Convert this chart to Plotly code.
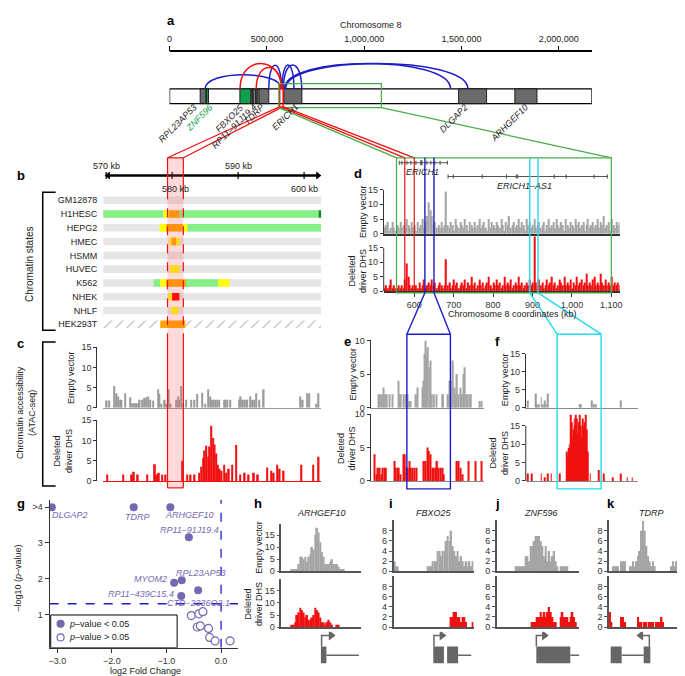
import plotly.graph_objects as go

W, H = 685, 676
FONT = "Liberation Sans, Arial, Helvetica, sans-serif"
RED = "#f01010"
GREY = "#a5a5a5"
BLUE = "#1c1cc8"
CYAN = "#20dced"
GREEN = "#46ad46"
ZGREEN = "#13a04c"
PURPLE = "#7468b0"
DARK = "#222222"
MODEL = "#666666"

# ------------------------------------------------------------------ data
# a: chromosome 8 overview (bp)
chrom_len = 2170000
chrom_ticks = [0, 500000, 1000000, 1500000, 2000000]
chrom_tick_text = ["0", "500,000", "1,000,000", "1,500,000", "2,000,000"]
gene_blocks = [(157000, 187000, "#6b6b6b"), (190000, 200000, ZGREEN), (361000, 417000, ZGREEN),
               (422000, 428000, "#555555"), (432000, 442000, "#9a9a9a"), (445000, 454000, "#6b6b6b"),
               (459000, 510000, "#6b6b6b"), (587000, 680000, "#6b6b6b"),
               (1485000, 1629000, "#6b6b6b"), (1774000, 1888000, "#6b6b6b")]
driver_a = (566000, 583000)
gene_names = ["RPL23AP53", "ZNF596", "FBXO25", "RP11–91J19.4", "TDRP", "ERICH1", "DLGAP2", "ARHGEF10"]
gene_label_end = [168000, 245000, 408000, 474000, 515000, 688000, 1561000, 1867000]
gene_label_color = [DARK, ZGREEN, DARK, DARK, DARK, DARK, DARK, DARK]
loops_blue = [(182000, 575000, 1.95), (510000, 575000, 2.6), (578000, 639000, 2.62),
              (585000, 679000, 2.62), (590000, 1444000, 2.72), (596000, 1533000, 2.72)]
loops_red = [(362000, 575000, 2.72), (445000, 575000, 2.45)]
zoom_region_a = (561000, 1088000)

# b: chromatin states (kb)
b_rows = ["GM12878", "H1HESC", "HEPG2", "HMEC", "HSMM", "HUVEC", "K562", "NHEK", "NHLF", "HEK293T"]
b_span = (569.55, 602.6)
state_grey = [(r, 569.55, 602.6) for r in range(9)]
state_green = [(1, 569.55, 578.7), (1, 581.1, 602.2), (2, 582.3, 602.6), (6, 577.2, 578.2), (6, 582.1, 587.0)]
state_dkgreen = [(1, 602.2, 602.6)]
state_yellow = [(1, 578.7, 579.5), (2, 578.1, 579.1), (2, 581.6, 582.3), (3, 579.6, 581.1),
                (5, 579.7, 581.1), (6, 578.2, 579.1), (6, 587.0, 588.7), (7, 579.4, 580.0), (8, 579.9, 580.9)]
state_orange = [(1, 579.5, 581.1), (2, 579.1, 581.6), (3, 579.9, 580.6), (6, 579.1, 582.1), (9, 578.2, 582.0)]
state_red = [(7, 580.0, 581.1)]
state_hatched = [(9, 569.55, 602.6)]
driver_dhs = (579.3, 581.7)

# c: ATAC-seq around the driver DHS (kb, reads)
c_empty = [(570.1, 1.8), (570.5, 1.8), (571.25, 5.4), (571.6, 3.6), (571.8, 2.8), (572.1, 2.0), (572.35, 2.0),
           (572.85, 3.6), (573.7, 2.6), (574.0, 1.1), (574.35, 1.1), (574.6, 1.1), (574.85, 1.1), (575.1, 2.0),
           (575.5, 2.0), (575.8, 2.4), (576.1, 2.6), (576.35, 2.8), (576.7, 2.0), (577.1, 1.8), (577.9, 4.6),
           (578.1, 3.4), (578.4, 1.0), (578.9, 2.0), (579.1, 1.0), (579.5, 4.6), (579.8, 1.0), (580.6, 2.0),
           (580.9, 2.8), (581.1, 2.0), (581.4, 5.4), (581.7, 1.1), (582.1, 2.0), (582.9, 2.0), (583.4, 2.0),
           (583.8, 3.4), (584.6, 3.7), (585.0, 1.0), (585.5, 4.6), (585.8, 2.8), (586.0, 2.0), (586.3, 2.0),
           (586.5, 2.0), (586.8, 2.0), (587.1, 2.0), (587.9, 2.0), (588.1, 2.0), (588.4, 2.0), (588.8, 2.0),
           (590.2, 2.0), (590.4, 2.8), (590.7, 2.0), (590.9, 2.0), (591.2, 2.0), (591.4, 2.0), (591.8, 2.8),
           (592.1, 2.0), (592.4, 2.0), (592.7, 3.6), (593.2, 2.0), (593.9, 4.6), (599.4, 2.8), (599.8, 2.0),
           (600.5, 3.6), (600.8, 3.6), (601.9, 1.0), (602.2, 3.6)]
c_deleted = [(570.15, 1.6), (572.6, 1.6), (573.9, 1.6), (574.2, 2.3), (574.8, 1.6), (576.2, 1.6), (577.4, 4.1),
             (577.7, 1.6), (578.0, 2.0), (578.5, 1.6), (579.0, 1.6), (581.6, 5.0), (582.3, 1.6), (582.8, 1.6),
             (583.4, 1.6), (584.1, 2.0), (584.4, 3.5), (584.7, 5.7), (584.95, 7.5), (585.2, 8.7), (585.45, 6.0),
             (585.7, 8.5), (585.95, 13.6), (586.2, 10.6), (586.45, 9.0), (586.7, 6.8), (586.95, 4.0), (587.2, 3.0),
             (587.5, 2.5), (587.9, 4.0), (588.2, 2.0), (588.6, 3.0), (589.1, 4.0), (589.7, 8.9), (590.3, 1.6),
             (591.0, 2.0), (591.6, 1.6), (592.4, 2.0), (593.0, 1.6), (594.4, 3.3), (595.0, 2.5), (595.4, 2.0),
             (595.9, 4.0), (596.3, 3.0), (596.9, 2.5), (599.6, 4.0), (601.4, 4.0), (602.2, 6.0)]

# d: 4 kb bins starting at 525 kb
d_bin_start, d_bin_kb = 525, 4
d_empty = [2, 3, 4, 1, 2, 4, 2, 1, 3, 2,
           4, 2, 3, 2, 5, 3, 2, 4, 2, 3,
           1, 4, 2, 3, 5, 2, 4, 6, 10.7, 8,
           6, 3, 4, 2, 3, 2, 4, 2, 3, 14.4,
           3, 2, 4, 3, 1, 5, 3, 2, 4, 3,
           2, 5, 3, 1, 4, 3, 2, 4, 2, 3,
           5, 2, 3, 4, 2, 1, 5, 2, 4, 3,
           2, 4, 3, 2, 5, 3, 1, 4, 3, 6,
           2, 3, 4, 2, 3, 5, 2, 4, 3, 1,
           5, 3, 4, 2, 3, 5, 2, 3, 4, 2,
           3, 4, 1, 3, 5, 2, 3, 4, 2, 5,
           3, 2, 4, 3, 1, 5, 3, 2, 4, 3,
           2, 5, 3, 4, 2, 3, 4, 1, 3, 5,
           2, 3, 4, 2, 3, 5, 2, 4, 3, 6,
           2, 3, 4, 1, 5, 3, 2, 4, 3, 4]
d_deleted = [1, 2, 1, 2, 4, 1, 2, 1, 1, 2,
             1, 2, 1, 4, 9.6, 5, 2, 1, 2, 1,
             2, 1, 3, 1, 2, 4, 1, 2, 3, 2,
             4, 2, 3, 1, 2, 3, 2, 1, 2, 11,
             2, 3, 1, 2, 4, 2, 3, 1, 2, 3,
             2, 4, 1, 3, 2, 5, 2, 3, 1, 2,
             4, 2, 3, 1, 2, 3, 5, 2, 1, 3,
             2, 4, 2, 3, 1, 2, 5, 2, 3, 2,
             4, 1, 2, 3, 2, 5, 2, 3, 1, 2,
             3, 2, 4, 2, 3, 18.9, 3, 2, 4, 2,
             3, 1, 2, 4, 2, 3, 5, 2, 3, 1,
             2, 4, 3, 2, 5, 2, 3, 2, 4, 1,
             3, 2, 5, 2, 3, 4, 2, 3, 6, 2,
             3, 2, 4, 5, 2, 3, 2, 6, 3, 2,
             4, 2, 3, 2, 5, 2, 3, 2, 3, 2]
erich1_span = (562.1, 684.1)
erich1_exons = [562.1, 568.8, 581.4, 591.5, 604.2, 631.9, 642.0, 652.1, 665.6, 684.1]
erich1_box = (615.1, 620.9)
as1_span = (685.8, 1089.9)
as1_exons = [685.8, 699.3, 772.5, 833.9, 859.1, 862.6, 955.1, 985.4, 1056.1, 1089.9]
d_ticks = [600, 700, 800, 900, 1000, 1100]
d_tick_text = ["600", "700", "800", "900", "1,000", "1,100"]
blue_region = (627, 650)
cyan_region = (893, 914)
red_region_d = (576, 600)
green_region_d = (555, 1100)

# e: zoom on blue region (kb, reads)
e_empty = [(612.0, 2), (612.9, 2), (613.9, 2), (614.8, 3), (615.5, 2), (616.5, 2), (617.8, 2), (619.5, 2),
           (622.5, 4), (623.2, 2), (623.9, 2), (625.1, 2), (626.5, 2), (627.4, 2), (628.2, 1), (629.1, 1),
           (631.9, 2), (632.8, 3), (635.2, 3), (635.7, 4), (636.4, 8), (637.0, 10), (637.5, 7.6), (638.2, 9),
           (638.9, 6), (639.6, 7), (640.1, 2), (641.4, 2), (642.7, 2), (645.7, 2), (646.2, 2), (648.8, 2),
           (649.7, 4), (650.4, 4), (651.4, 7), (652.1, 3), (652.9, 2), (653.5, 5), (654.4, 2), (655.3, 3),
           (656.2, 2), (657.0, 5), (657.7, 6), (658.4, 2), (659.1, 2), (660.2, 2), (660.9, 2), (665.4, 1),
           (666.6, 1)]
e_deleted = [(609.9, 4), (611.0, 1), (611.8, 2), (612.6, 2), (613.5, 1), (614.3, 2), (615.2, 2), (616.0, 2),
             (620.4, 3), (621.2, 2), (622.0, 2), (622.8, 2), (623.6, 1), (625.3, 4), (626.0, 4), (626.8, 2),
             (627.6, 2), (628.4, 3), (629.2, 2), (630.0, 2), (631.0, 2), (632.0, 2), (636.1, 3), (637.0, 3),
             (637.8, 5), (638.7, 4.5), (639.6, 4), (640.5, 2), (641.3, 2), (642.1, 2), (643.0, 3), (643.8, 2),
             (645.0, 2), (645.8, 2), (646.6, 1), (653.5, 3), (654.4, 3), (655.4, 2), (656.4, 1), (659.7, 3),
             (663.2, 3), (666.6, 3)]

# f: zoom on cyan region (kb, reads)
f_empty = [(879.1, 2), (882.6, 4), (883.4, 1), (884.3, 1), (885.4, 3), (886.2, 1), (887.0, 2), (887.8, 1),
           (888.6, 4), (903.6, 1), (904.4, 1), (909.4, 2), (910.7, 1), (911.5, 1), (923.3, 2)]
f_deleted = [(879.1, 2), (880.7, 2), (885.4, 2), (887.0, 1), (888.6, 2), (890.2, 2), (894.1, 2),
             (897.6, 8), (898.0, 7), (898.4, 9), (898.8, 10), (899.2, 8), (899.6, 18), (900.0, 16),
             (900.4, 12), (900.8, 14), (901.2, 17), (901.6, 15), (902.0, 18), (902.4, 17), (902.8, 13),
             (903.2, 16), (903.6, 18), (904.0, 14), (904.4, 15), (904.8, 12), (905.2, 17), (905.6, 15),
             (906.0, 16), (906.4, 11), (906.8, 18), (907.2, 14), (907.6, 8), (908.8, 2), (913.0, 3),
             (915.4, 2), (919.4, 1), (923.3, 2), (926.5, 1), (928.9, 1)]

# g: volcano plot
g_sig_x = [-3.1, -1.6, -0.93, -0.59, -0.72, -0.86, -0.73, -0.42]
g_sig_y = [4.0, 4.0, 4.0, 3.16, 1.96, 1.89, 1.52, 1.68]
g_sig_names = ["DLGAP2", "TDRP", "ARHGEF10", "RP11–91J19.4", "RPL23AP53", "MYOM2", "RP11–439C15.4", "CTD–2336O2.1"]
g_lab_x = [-2.76, -1.53, -0.57, -0.58, -0.36, -1.3, -1.47, -0.42]
g_lab_y = [3.77, 3.72, 3.77, 3.36, 2.17, 2.0, 1.57, 1.31]
g_ns_x = [-0.545, -0.406, -0.333, -0.436, -0.38, -0.23, -0.21, -0.11, 0.164]
g_ns_y = [0.97, 1.02, 1.08, 0.65, 0.68, 0.61, 0.36, 0.26, 0.26]
p_cut = 1.301

# h-k: promoter coverage (bins)
h_empty = [0, 0, 0, 0, 0, 0, 1, 1, 1, 1, 3, 6, 6, 5, 6, 4, 6, 7, 10, 9,
           15, 18, 16, 12, 8, 6, 3, 3, 3, 4, 5, 3, 3, 3, 2, 1, 1, 1, 0, 0,
           0, 0, 0, 0, 0, 0, 0, 0]
h_deleted = [0, 0, 0, 0, 0, 0, 1, 1, 2, 5, 6, 8, 7, 6, 4, 5, 3, 3, 4, 5,
             8, 7, 6, 4, 2, 2, 1, 2, 3, 2, 1, 0, 0, 1, 1, 0, 0, 0, 0, 0,
             0, 0, 0, 0, 0, 0, 0, 0]
i_empty = [2, 1, 1, 0, 0, 0, 0, 0, 0, 0, 0, 0, 0, 0, 0, 0, 0, 0, 0, 0,
           1, 1, 1, 2, 2, 2, 4, 4, 3, 4, 4, 6, 7, 6, 8, 5, 4, 3, 4, 2,
           3, 2, 1, 2, 1, 2, 1, 2]
i_deleted = [0, 0, 0, 0, 0, 0, 0, 0, 0, 0, 0, 0, 0, 0, 0, 0, 0, 0, 0, 0,
             0, 0, 0, 0, 0, 0, 0, 0, 0, 0, 0, 0, 0, 0, 2, 2, 3, 3, 2, 2,
             1, 2, 2, 1, 0, 0, 0, 1]
j_empty = [0, 0, 0, 0, 0, 0, 0, 0, 0, 0, 0, 1, 1, 1, 1, 1, 1, 3, 3, 2,
           5, 5, 6, 7, 7, 7, 6, 5, 3, 5, 2, 4, 2, 3, 4, 2, 1, 0, 1, 1,
           1, 1, 1, 0, 0, 0, 0, 0, 0, 0]
j_deleted = [0, 0, 0, 0, 0, 0, 0, 0, 0, 0, 0, 0, 0, 0, 0, 0, 0, 0, 0, 0,
             0, 1, 1, 1, 2, 2, 3, 2, 3, 2, 3, 4, 3, 2, 1, 1, 0, 0, 2, 3,
             2, 2, 2, 1, 2, 3, 2, 1, 0, 0]
k_empty = [0, 0, 1, 1, 1, 1, 0, 2, 2, 2, 0, 0, 1, 1, 2, 1, 2, 3, 4, 8,
           10, 8, 5, 3, 2, 1, 2, 1, 0, 0, 0, 0, 0, 0, 0, 0, 0, 1, 2, 1,
           2, 2, 4, 5, 3, 2, 1, 0]
k_deleted = [3, 1, 0, 0, 0, 0, 0, 2, 2, 1, 0, 0, 0, 0, 0, 0, 0, 2, 1, 1,
             0, 1, 1, 0, 1, 1, 1, 0, 1, 1, 1, 2, 1, 0, 0, 0, 0, 0, 0, 0,
             0, 1, 2, 3, 2, 1, 0, 0]
promoter_genes = ["ARHGEF10", "FBXO25", "ZNF596", "TDRP"]
# gene models in bin units: exons, intron line, TSS x, arrow tip x
models = [
    dict(exons=[(23.8, 27.1)], line=(27.1, 46.6), tss=24.2, tip=32.1),
    dict(exons=[(23.8, 30.2), (32.1, 38.7)], line=(38.7, 46.6), tss=24.2, tip=31.2),
    dict(exons=[(23.8, 44.2)], line=(44.2, 49.6), tss=23.8, tip=30.8),
    dict(exons=[(1.0, 7.6), (20.8, 24.8)], line=(7.6, 20.8), tss=24.2, tip=16.9),
]

# ------------------------------------------------------------------ helpers
fig = go.Figure()
AX = {}


def sfx(n):
    return "" if n == 1 else str(n)


def add_axes(n, xpx, ypx, xr, yr, xkw=None, ykw=None):
    AX[n] = (xpx, ypx, xr, yr)
    base = dict(showgrid=False, zeroline=False, showticklabels=False, ticks="", showline=False,
                fixedrange=True, tickfont=dict(family=FONT, size=9, color="#333333"))
    xa = dict(base, domain=[xpx[0] / W, xpx[1] / W], range=list(xr), anchor="y" + sfx(n))
    ya = dict(base, domain=[1 - ypx[1] / H, 1 - ypx[0] / H], range=list(yr), anchor="x" + sfx(n))
    xa.update(xkw or {})
    ya.update(ykw or {})
    fig.update_layout(**{"xaxis" + sfx(n): xa, "yaxis" + sfx(n): ya})


def X(n, v):
    xpx, ypx, xr, yr = AX[n]
    return xpx[0] + (v - xr[0]) / (xr[1] - xr[0]) * (xpx[1] - xpx[0])


def Y(n, v):
    xpx, ypx, xr, yr = AX[n]
    return ypx[1] - (v - yr[0]) / (yr[1] - yr[0]) * (ypx[1] - ypx[0])


def hist_y(vals, color="#333333", **kw):
    d = dict(showline=True, linecolor=color, linewidth=1, ticks="outside", ticklen=3,
             tickcolor=color, showticklabels=True, tickvals=vals)
    d.update(kw)
    return d


def base_x(color, width=1.0):
    return dict(showline=True, linecolor=color, linewidth=width)


def add_bars(n, pts, color, width):
    xs = [p[0] for p in pts]
    ys = [p[1] for p in pts]
    fig.add_trace(go.Bar(x=xs, y=ys, width=width, marker=dict(color=color, line=dict(width=0)),
                         xaxis="x" + sfx(n), yaxis="y" + sfx(n), hoverinfo="skip", showlegend=False))


def add_line(n, xs, ys, color, width=1.2, dash="solid"):
    fig.add_trace(go.Scatter(x=xs, y=ys, mode="lines", line=dict(color=color, width=width, dash=dash),
                             xaxis="x" + sfx(n), yaxis="y" + sfx(n), hoverinfo="skip", showlegend=False))


def note(x, y, text, size=9, color=DARK, angle=0, xa="center", ya="middle", xref="paper", yref="paper"):
    if xref == "paper":
        x = x / W
    if yref == "paper":
        y = 1 - y / H
    fig.add_annotation(x=x, y=y, xref=xref, yref=yref, text=text, showarrow=False, textangle=angle,
                       font=dict(family=FONT, size=size, color=color), xanchor=xa, yanchor=ya)


def seg(x0, y0, x1, y1, color, width=1.2, dash="solid"):
    fig.add_shape(type="line", xref="paper", yref="paper", x0=x0 / W, y0=1 - y0 / H, x1=x1 / W,
                  y1=1 - y1 / H, line=dict(color=color, width=width, dash=dash))


def prect(x0, y0, x1, y1, color, width=1.2, fill="rgba(0,0,0,0)"):
    fig.add_shape(type="rect", xref="paper", yref="paper", x0=x0 / W, y0=1 - y1 / H, x1=x1 / W,
                  y1=1 - y0 / H, line=dict(color=color, width=width), fillcolor=fill)


# ------------------------------------------------------------------ a
add_axes(1, (160, 586), (40, 100), (0, chrom_len), (-0.533, 3.467),
         xkw=dict(side="top", showline=True, linecolor="black", linewidth=1.5, ticks="outside", ticklen=5,
                  tickcolor="black", showticklabels=True, tickvals=chrom_ticks, ticktext=chrom_tick_text,
                  tickfont=dict(family=FONT, size=9, color=DARK)))
add_line(1, [0], [0], "rgba(0,0,0,0)")
fig.add_shape(type="rect", xref="x", yref="y", x0=0, x1=chrom_len, y0=0, y1=1,
              line=dict(color="black", width=1.2), fillcolor="white")
for s, e, c in gene_blocks:
    fig.add_shape(type="rect", xref="x", yref="y", x0=s, x1=e, y0=0, y1=1,
                  line=dict(color="black", width=0.8), fillcolor=c)
for loops, col in ((loops_blue, BLUE), (loops_red, RED)):
    for s, e, peak in loops:
        cy = 1 + (peak - 1) * 4 / 3
        fig.add_shape(type="path", xref="x", yref="y", path=f"M {s},1 C {s},{cy:.3f} {e},{cy:.3f} {e},1",
                      line=dict(color=col, width=1.5))
for bp in driver_a:
    fig.add_shape(type="line", xref="x", yref="y", x0=bp, x1=bp, y0=-0.2, y1=1.3, line=dict(color=RED, width=1.4))
fig.add_shape(type="rect", xref="x", yref="y", x0=zoom_region_a[0], x1=zoom_region_a[1], y0=-0.27, y1=1.35,
              line=dict(color=GREEN, width=1.2))
for name, end, col in zip(gene_names, gene_label_end, gene_label_color):
    note(end, 0.3, f"<i>{name}</i>", size=9, color=col, angle=-45, xa="right", ya="top", xref="x", yref="y")
note(363, 12, "Chromosome 8", size=9)

# ------------------------------------------------------------------ b
add_axes(2, (93, 313), (183, 323), b_span, (9.5, -0.5),
         ykw=dict(showticklabels=True, tickvals=list(range(10)), ticktext=b_rows, ticklabelstandoff=5,
                  tickfont=dict(family=FONT, size=9, color=DARK)))
for segs, col in ((state_grey, "#e6e6e6"), (state_green, "#86f086"), (state_dkgreen, "#0c8a2c"),
                  (state_yellow, "#ffff00"), (state_orange, "#ffa500"), (state_red, "#ff0000")):
    if col == "#ffa500":
        fig.add_trace(go.Bar(orientation="h", y=[s[0] for s in state_hatched], base=[s[1] for s in state_hatched],
                             x=[s[2] - s[1] for s in state_hatched], width=0.55,
                             marker=dict(color="white", line=dict(width=0),
                                         pattern=dict(shape="/", fgcolor="#555555", bgcolor="white",
                                                      size=8, solidity=0.12)),
                             xaxis="x2", yaxis="y2", hoverinfo="skip", showlegend=False))
    fig.add_trace(go.Bar(orientation="h", y=[s[0] for s in segs], base=[s[1] for s in segs],
                         x=[s[2] - s[1] for s in segs], width=0.55, marker=dict(color=col, line=dict(width=0)),
                         xaxis="x2", yaxis="y2", hoverinfo="skip", showlegend=False))

# ruler above b
add_axes(3, (93, 313), (145, 185), b_span, (-20, 20))
add_line(3, [570.1, 602.3], [0, 0], "black", width=2.4)
fig.add_trace(go.Scatter(x=[570.3, 602.1], y=[0, 0], mode="markers",
                         marker=dict(symbol=["triangle-left", "triangle-right"], size=7, color="black"),
                         xaxis="x3", yaxis="y3", hoverinfo="skip", showlegend=False))
for kb in (570, 580, 590, 600):
    add_line(3, [kb, kb], [-3.5, 3.5], "black", width=1.2)
for kb, yy in ((570, 10), (590, 10), (580.5, -14), (600, -14)):
    note(kb, yy, f"{int(kb)} kb", size=9, xref="x3", yref="y3")

# ------------------------------------------------------------------ c
add_axes(4, (93, 313), (339.3, 400.7), b_span, (0, 15), xkw=base_x("#9a9a9a"),
         ykw=hist_y([0, 5, 10, 15], anchor="free", position=86 / W))
add_axes(5, (93, 313), (413.3, 475), b_span, (0, 15), xkw=base_x(RED),
         ykw=hist_y([0, 5, 10, 15], anchor="free", position=86 / W))
add_bars(4, c_empty, "#9b9b9b", 0.22)
add_bars(5, c_deleted, RED, 0.25)

# ------------------------------------------------------------------ d
d_x = [d_bin_start + d_bin_kb * i for i in range(len(d_empty))]
d_span = (522.5, 1121)
add_axes(6, (376, 614), (145, 178), d_span, (0, 33))
add_axes(7, (376, 614), (179.3, 224), d_span, (0, 15), xkw=base_x("#333333", 2), ykw=hist_y([0, 5, 10, 15]))
add_axes(8, (376, 614), (225.1, 282.3), d_span, (0, 19.5),
         xkw=dict(showline=True, linecolor="#333333", linewidth=2, ticks="outside", ticklen=4,
                  tickcolor="#333333", showticklabels=True, tickvals=d_ticks, ticktext=d_tick_text),
         ykw=dict(ticks="outside", ticklen=3, tickcolor="#333333", showticklabels=True, tickvals=[0, 5, 10, 15]))
fig.add_shape(type="line", xref="x8 domain", yref="y8", x0=0, x1=0, y0=0, y1=15,
              line=dict(color="#333333", width=1))
add_bars(7, list(zip(d_x, d_empty)), GREY, 3.0)
add_bars(8, list(zip(d_x, d_deleted)), RED, 3.0)
gx, gy = [erich1_span[0], erich1_span[1], None, as1_span[0], as1_span[1], None], [26, 26, None, 12, 12, None]
for kb in erich1_exons:
    gx += [kb, kb, None]
    gy += [24, 28, None]
for kb in as1_exons:
    gx += [kb, kb, None]
    gy += [10, 14, None]
add_line(6, gx, gy, "#555555", width=1.1)
fig.add_shape(type="rect", xref="x6", yref="y6", x0=erich1_box[0], x1=erich1_box[1], y0=23.5, y1=28.5,
              line=dict(width=0), fillcolor="#555555")
note(621, 17, "<i>ERICH1</i>", size=9, xref="x6", yref="y6")
note(880, 2, "<i>ERICH1–AS1</i>", size=9, xref="x6", yref="y6")

# ------------------------------------------------------------------ e, f
add_axes(9, (362.7, 476.7), (332.3, 400.7), (607.8, 667.5), (0, 10), xkw=base_x("#8a8a8a"), ykw=hist_y([0, 5, 10]))
add_axes(10, (362.7, 476.7), (407.3, 475), (607.8, 667.5), (0, 10), xkw=base_x("#8a8a8a"), ykw=hist_y([0, 5, 10]))
add_bars(9, e_empty, GREY, 0.75)
add_bars(10, e_deleted, RED, 0.75)
add_axes(11, (519.3, 632.7), (346, 400.7), (878, 931.7), (0, 15), xkw=base_x("#8a8a8a"),
         ykw=hist_y([0, 5, 10, 15]))
add_axes(12, (519.3, 632.7), (404.1, 475), (878, 931.7), (0, 19), xkw=base_x("#8a8a8a"),
         ykw=dict(ticks="outside", ticklen=3, tickcolor="#333333", showticklabels=True, tickvals=[0, 5, 10, 15]))
fig.add_shape(type="line", xref="x12 domain", yref="y12", x0=0, x1=0, y0=0, y1=15,
              line=dict(color="#333333", width=1))
add_bars(11, f_empty, "#9b9b9b", 0.45)
add_bars(12, f_deleted, RED, 0.42)

# ------------------------------------------------------------------ g
add_axes(13, (39, 229), (494, 644.3), (-3.14, 0.31), (0.07, 4.21),
         xkw=dict(showline=True, linecolor="#333333", linewidth=1, ticks="outside", ticklen=4, tickcolor="#333333",
                  showticklabels=True, tickvals=[-3, -2, -1, 0], ticktext=["−3.0", "−2.0", "−1.0", "0.0"]),
         ykw=dict(showline=True, linecolor="#333333", linewidth=1, ticks="outside", ticklen=4, tickcolor="#333333",
                  showticklabels=True, tickvals=[1, 2, 3, 4], ticktext=["1", "2", "3", ">4"]))
fig.add_shape(type="rect", xref="x13", yref="y13", x0=-3.12, x1=-0.805, y0=0.07, y1=0.987, layer="below",
              line=dict(color="black", width=1), fillcolor="white")
fig.add_shape(type="line", xref="x13", yref="y13", x0=0, x1=0, y0=0.07, y1=4.21,
              line=dict(color=BLUE, width=1.3, dash="dash"))
fig.add_shape(type="line", xref="x13", yref="y13", x0=-3.14, x1=0.31, y0=p_cut, y1=p_cut,
              line=dict(color=BLUE, width=1.3, dash="dash"))
fig.add_trace(go.Scatter(x=g_sig_x, y=g_sig_y, mode="markers", marker=dict(color=PURPLE, size=8),
                         xaxis="x13", yaxis="y13", hoverinfo="skip", showlegend=False))
fig.add_trace(go.Scatter(x=g_ns_x, y=g_ns_y, mode="markers",
                         marker=dict(color="white", size=8, line=dict(color=PURPLE, width=1.2)),
                         xaxis="x13", yaxis="y13", hoverinfo="skip", showlegend=False))
for name, lx, ly in zip(g_sig_names, g_lab_x, g_lab_y):
    note(lx, ly, f"<i>{name}</i>", size=9, color=PURPLE, xref="x13", yref="y13")
fig.add_trace(go.Scatter(x=[-2.94, -2.94], y=[0.74, 0.36], mode="markers",
                         marker=dict(color=[PURPLE, "white"], size=7, line=dict(color=PURPLE, width=1.2)),
                         xaxis="x13", yaxis="y13", hoverinfo="skip", showlegend=False))
note(-2.82, 0.74, "<i>p</i>–value &lt; 0.05", size=9, xa="left", xref="x13", yref="y13")
note(-2.82, 0.36, "<i>p</i>–value &gt; 0.05", size=9, xa="left", xref="x13", yref="y13")
note(136, 668, "log2 Fold Change", size=9)
note(7, 573, "–log10 (<i>p</i>–value)", size=9, angle=-90)

# ------------------------------------------------------------------ h-k
panel_x = [(272.7, 353.3, 48), (386, 466.7, 48), (490, 573.3, 49.6), (603.3, 685, 48.6)]
tops = [h_empty, i_empty, j_empty, k_empty]
bottoms = [h_deleted, i_deleted, j_deleted, k_deleted]
for idx, ((x0, x1, nb), top, bot, model) in enumerate(zip(panel_x, tops, bottoms, models)):
    nt, nbm, ng = 14 + 2 * idx, 15 + 2 * idx, 22 + idx
    if idx == 0:
        ytop, ybot, yr, tv = (518.3, 566.7), (575, 623.3), (0, 19.7), [0, 5, 10, 15]
    else:
        ytop, ybot, yr, tv = (515, 566.7), (571.7, 623.3), (0, 10.07), [0, 2, 4, 6, 8]
    add_axes(nt, (x0, x1), ytop, (0, nb), yr, xkw=base_x("#555555", 1.5), ykw=hist_y(tv, "#555555", linewidth=1.5))
    add_axes(nbm, (x0, x1), ybot, (0, nb), yr, xkw=base_x("#555555", 1.5), ykw=hist_y(tv, "#555555", linewidth=1.5))
    add_bars(nt, [(i + 0.5, v) for i, v in enumerate(top)], GREY, 1.0)
    add_bars(nbm, [(i + 0.5, v) for i, v in enumerate(bot)], RED, 1.0)
    add_axes(ng, (x0, x1), (628, 662), (0, nb), (0, 1))
    add_line(ng, [model["line"][0], model["line"][1]], [0.3, 0.3], MODEL, width=1.5)
    for s, e in model["exons"]:
        fig.add_shape(type="rect", xref="x" + sfx(ng), yref="y" + sfx(ng), x0=s, x1=e, y0=0.06, y1=0.56,
                      line=dict(width=0), fillcolor=MODEL)
    direction = 1 if model["tip"] > model["tss"] else -1
    add_line(ng, [model["tss"], model["tss"], model["tip"] - direction * 2.5], [0.56, 0.89, 0.89], MODEL, width=1.5)
    fig.add_trace(go.Scatter(x=[model["tip"] - direction * 2.2], y=[0.89], mode="markers",
                             marker=dict(symbol="triangle-right" if direction > 0 else "triangle-left",
                                         size=9, color=MODEL),
                             xaxis="x" + sfx(ng), yaxis="y" + sfx(ng), hoverinfo="skip", showlegend=False))
for name, cx in zip(promoter_genes, [313.3, 426.7, 535, 645.7]):
    note(cx, 507, f"<i>{name}</i>", size=9)
note(250, 542, "Empty vector", size=9, angle=-90)
note(245, 600, "Deleted<br>driver DHS", size=9, angle=-90)

# ------------------------------------------------------------------ side titles
note(60, 370, "Empty vector", size=9, angle=-90)
note(53, 445, "Deleted<br>driver DHS", size=9, angle=-90)
note(355, 201, "Empty vector", size=9, angle=-90)
note(350, 262, "Deleted<br>driver DHS", size=9, angle=-90)
note(345, 366, "Empty vector", size=9, angle=-90)
note(339, 442, "Deleted<br>driver DHS", size=9, angle=-90)
note(499, 372, "Empty vector", size=9, angle=-90)
note(493, 447, "Deleted<br>driver DHS", size=9, angle=-90)
note(18, 255, "Chromatin states", size=10, angle=-90)
note(15, 405, "Chromatin accessibility<br>(ATAC-seq)", size=9, angle=-90)
note(506, 306, "Chromosome 8 coordinates (kb)", size=9)
fig.add_shape(type="path", xref="paper", yref="paper", line=dict(color="black", width=1.5),
              path=f"M {45/W},{1-182/H} L {32/W},{1-182/H} L {32/W},{1-322/H} L {45/W},{1-322/H}")
fig.add_shape(type="path", xref="paper", yref="paper", line=dict(color="black", width=1.5),
              path=f"M {45/W},{1-334/H} L {32/W},{1-334/H} L {32/W},{1-480/H} L {45/W},{1-480/H}")

for lab, x, y in (("a", 155, 8), ("b", 4, 165), ("c", 4, 335), ("d", 344, 163), ("e", 334, 333),
                  ("f", 486, 333), ("g", 4, 498), ("h", 243, 498), ("i", 379, 498), ("j", 486, 498),
                  ("k", 599, 498)):
    note(x, y, f"<b>{lab}</b>", size=13, color="black", xa="left")

# ------------------------------------------------------------------ connectors
a_bot = Y(1, -0.27)
drv_bot = Y(1, -0.2)
# driver DHS box through b and c
xl, xr = X(2, driver_dhs[0]), X(2, driver_dhs[1])
prect(xl, 147, xr, 482, "rgba(0,0,0,0)", width=0, fill="rgba(255,70,70,0.2)")
for xx in (xl, xr):
    seg(xx, 147, xx, 180, RED)
    seg(xx, 180, xx, 325, RED, dash="dash")
    seg(xx, 325, xx, 482, RED)
seg(xl, 147, xr, 147, RED)
seg(xl, 482, xr, 482, RED)
seg(xl, 147, X(1, driver_a[0]), drv_bot, RED)
seg(xr, 147, X(1, driver_a[1]), drv_bot, RED)
# red and green into d
seg(X(1, driver_a[0]), drv_bot, X(6, red_region_d[0]), 147, RED)
seg(X(1, driver_a[1]), drv_bot, X(6, red_region_d[1]), 147, RED)
seg(X(1, zoom_region_a[0]), a_bot, X(6, green_region_d[0]), 147, GREEN)
seg(X(1, zoom_region_a[1]), a_bot, X(6, green_region_d[1]), 147, GREEN)
prect(X(6, green_region_d[0]), 147, X(6, green_region_d[1]), 284, GREEN)
for kb in red_region_d:
    seg(X(6, kb), 147, X(6, kb), 282, RED)
for (lo, hi), col, n in ((blue_region, BLUE, 9), (cyan_region, CYAN, 11)):
    for kb in (lo, hi):
        seg(X(6, kb), 147, X(6, kb), 284, col, width=1.4)
        seg(X(6, kb), 284, X(n, kb), 326, col, width=1.4)
    prect(X(n, lo), 326, X(n, hi), 483, col, width=1.4)

fig.update_layout(width=W, height=H, margin=dict(l=0, r=0, t=0, b=0), barmode="overlay",
                  paper_bgcolor="white", plot_bgcolor="rgba(0,0,0,0)", showlegend=False,
                  font=dict(family=FONT, size=9, color=DARK))
fig.write_html("out.html")
